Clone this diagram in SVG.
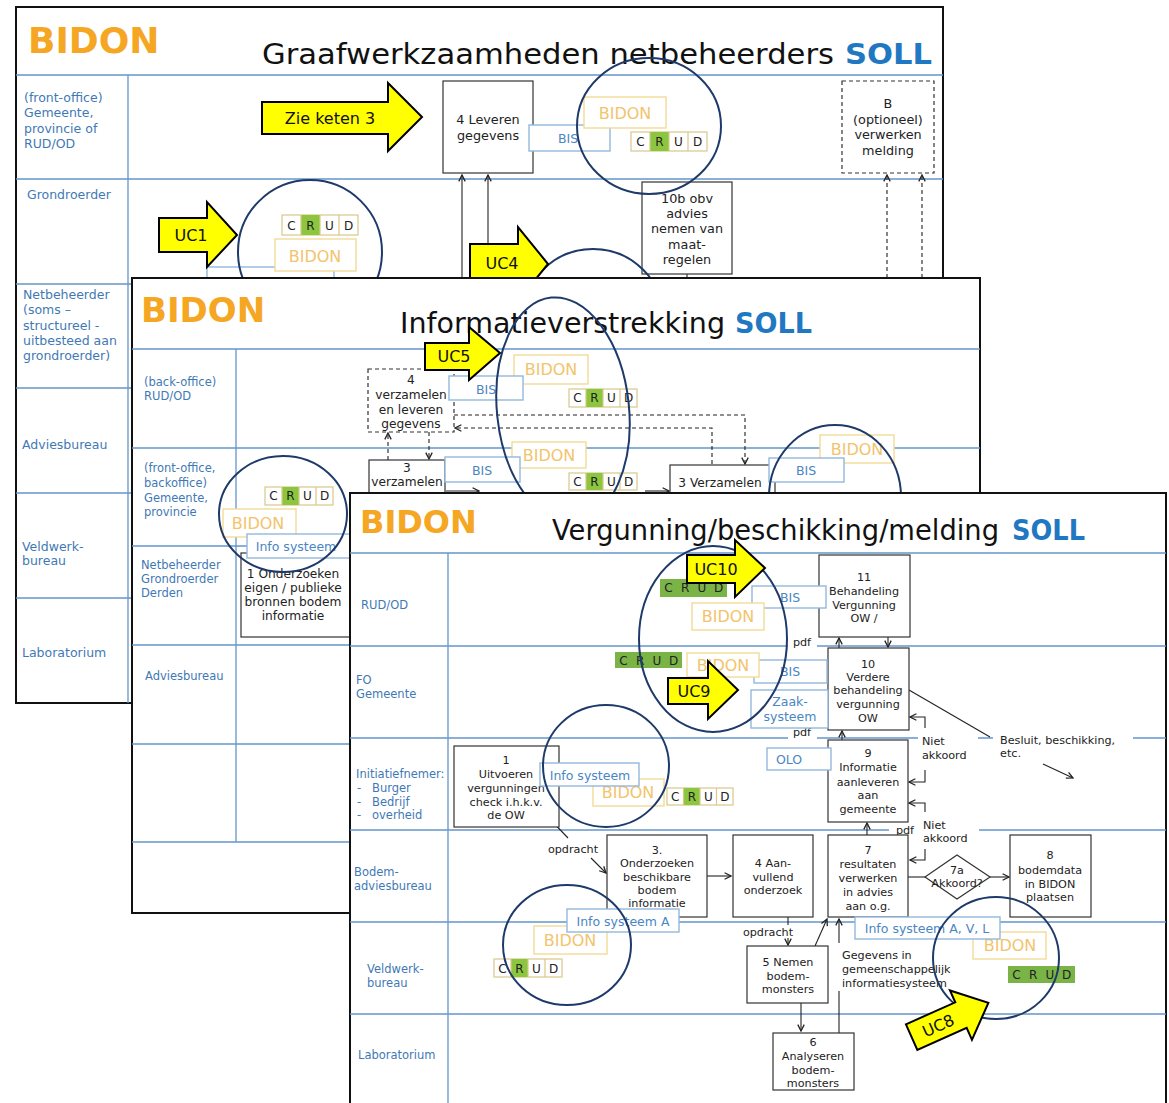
<svg xmlns="http://www.w3.org/2000/svg" width="1169" height="1103" viewBox="0 0 1169 1103">
<defs>
<style>
text{font-family:'DejaVu Sans',Verdana,sans-serif}
.slide{fill:#fff;stroke:#111;stroke-width:2}
.lane{stroke:#6496cc;stroke-width:1.3;fill:none}
.lbl{font-size:11.5px;fill:#3f79b5}
.lbl1{font-size:12.5px;fill:#3f79b5}
.brand{font-weight:bold;fill:#f5a623}
.ttl{fill:#111}
.soll{font-weight:bold;fill:#1f78c1}
.box{fill:#fff;stroke:#333;stroke-width:1.2}
.dbox{fill:#fff;stroke:#333;stroke-width:1.2;stroke-dasharray:4 3}
.t{font-size:11.2px;fill:#222;text-anchor:middle}
.t2{font-size:12.2px;fill:#222;text-anchor:middle}
.t1{font-size:12.8px;fill:#222;text-anchor:middle}
.ts{font-size:11.2px;fill:#222}
.sys{fill:#fff;stroke:#93b8dd;stroke-width:1.4}
.st{font-size:12.5px;fill:#4a86c3;text-anchor:middle}
.bid{fill:#fff;stroke:#f2da96;stroke-width:1.4}
.bt{font-size:16px;fill:#f2c46c;text-anchor:middle}
.cb{fill:#fff;stroke:#d8c98a;stroke-width:1.2}
.cg{fill:#8cc63f}
.cga{fill:#7bb446}
.cl{stroke:#d8c98a;stroke-width:1.2;fill:none}
.ct{font-size:12px;fill:#222;text-anchor:middle}
.uc{fill:#ffff00;stroke:#000;stroke-width:2;stroke-linejoin:miter}
.ut{font-size:16px;fill:#111;text-anchor:middle}
.circ{fill:none;stroke:#1e3a6a;stroke-width:2}
.ln{fill:none;stroke:#222;stroke-width:1.1}
.dl{fill:none;stroke:#222;stroke-width:1.1;stroke-dasharray:4 3}
.bg{fill:#fff}
</style>
<marker id="ah" viewBox="0 0 10 10" refX="9" refY="5" markerWidth="8" markerHeight="8" markerUnits="userSpaceOnUse" orient="auto"><path d="M1,1 L9,5 L1,9" fill="none" stroke="#222" stroke-width="1.6"/></marker>
</defs>

<!-- ================= SLIDE 1 ================= -->
<g id="slide1">
<rect class="slide" x="16" y="7" width="927" height="696"/>
<text class="brand" x="28" y="53" font-size="36">BIDON</text>
<text class="ttl" x="262" y="64" font-size="29" textLength="572" lengthAdjust="spacingAndGlyphs">Graafwerkzaamheden netbeheerders</text>
<text class="soll" x="845" y="64" font-size="29" textLength="87" lengthAdjust="spacingAndGlyphs">SOLL</text>
<path class="lane" d="M16,75H943 M16,179H943 M16,284H943 M16,388H943 M16,493H943 M16,598H943 M128,75V703"/>
<g id="s1-lanes">
<text class="lbl1" x="24" y="102">(front-office)</text>
<text class="lbl1" x="24" y="117">Gemeente,</text>
<text class="lbl1" x="24" y="133">provincie of</text>
<text class="lbl1" x="24" y="148">RUD/OD</text>
<text class="lbl1" x="27" y="199">Grondroerder</text>
<text class="lbl1" x="23" y="299">Netbeheerder</text>
<text class="lbl1" x="23" y="314">(soms –</text>
<text class="lbl1" x="23" y="330">structureel -</text>
<text class="lbl1" x="23" y="345">uitbesteed aan</text>
<text class="lbl1" x="23" y="360">grondroerder)</text>
<text class="lbl1" x="22" y="449">Adviesbureau</text>
<text class="lbl1" x="22" y="551">Veldwerk-</text>
<text class="lbl1" x="22" y="565">bureau</text>
<text class="lbl1" x="22" y="657">Laboratorium</text>
</g>
<g id="s1-connectors">
<path class="ln" d="M462,278V175" marker-end="url(#ah)"/>
<path class="ln" d="M488,278V175" marker-end="url(#ah)"/>
<path class="dl" d="M887,278V175" marker-end="url(#ah)"/>
<path class="dl" d="M922,278V175" marker-end="url(#ah)"/>
<path class="ln" d="M687,274V290"/>
</g>
<g id="s1-n4"><rect class="box" x="443" y="81" width="90" height="92"/>
<text class="t1" x="488" y="124">4 Leveren</text><text class="t1" x="488" y="140">gegevens</text></g>
<g id="s1-nB"><rect class="dbox" x="842" y="81" width="92" height="92"/>
<text class="t1" x="888" y="108">B</text><text class="t1" x="888" y="124">(optioneel)</text><text class="t1" x="888" y="139">verwerken</text><text class="t1" x="888" y="155">melding</text></g>
<g id="s1-n10b"><rect class="box" x="642" y="182" width="90" height="92"/>
<text class="t1" x="687" y="203">10b obv</text><text class="t1" x="687" y="218">advies</text><text class="t1" x="687" y="233">nemen van</text><text class="t1" x="687" y="249">maat-</text><text class="t1" x="687" y="264">regelen</text></g>
<g id="s1-bis"><rect class="sys" x="529" y="125" width="81" height="26"/><text class="st" x="568" y="143">BIS</text></g>
<g id="s1-bidon1"><rect class="bid" x="584" y="97" width="82" height="31"/><text class="bt" x="625" y="119" font-size="18">BIDON</text></g>
<g id="s1-crud1"><rect class="cb" x="631" y="132" width="76" height="19"/><rect class="cg" x="650" y="132" width="19" height="19"/>
<path class="cl" d="M650,132v19M669,132v19M688,132v19"/>
<text class="ct" x="640.5" y="146">C</text><text class="ct" x="659.5" y="146">R</text><text class="ct" x="678.5" y="146">U</text><text class="ct" x="697.5" y="146">D</text></g>
<g id="s1-info"><rect class="sys" x="207" y="267" width="127" height="24"/></g>
<g id="s1-crud2"><rect class="cb" x="282" y="215" width="76" height="20"/><rect class="cg" x="301" y="215" width="19" height="20"/>
<path class="cl" d="M301,215v20M320,215v20M339,215v20"/>
<text class="ct" x="291.5" y="229.5">C</text><text class="ct" x="310.5" y="229.5">R</text><text class="ct" x="329.5" y="229.5">U</text><text class="ct" x="348.5" y="229.5">D</text></g>
<g id="s1-bidon2"><rect class="bid" x="275" y="239" width="81" height="32"/><text class="bt" x="315" y="262" font-size="18">BIDON</text></g>
<g id="s1-circles">
<ellipse class="circ" cx="649" cy="126" rx="72" ry="68"/>
<circle class="circ" cx="310" cy="252" r="72"/>
<circle class="circ" cx="593" cy="320" r="71"/>
</g>
<g id="s1-zie"><path class="uc" d="M262,102H388V83L422,117L388,151V134H262Z"/><text class="ut" x="330" y="124" font-size="17.5">Zie keten 3</text></g>
<g id="s1-uc1"><path class="uc" d="M159,218H207V202L237,235L207,267V252H159Z"/><text class="ut" x="191" y="241" font-size="17">UC1</text></g>
<g id="s1-uc4"><path class="uc" d="M470,244H518V227L548,264L518,301V284H470Z"/><text class="ut" x="502" y="269" font-size="17">UC4</text></g>
</g>

<!-- ================= SLIDE 2 ================= -->
<g id="slide2">
<rect class="slide" x="132" y="278" width="848" height="635"/>
<text class="brand" x="141" y="322" font-size="34">BIDON</text>
<text class="ttl" x="400" y="333" font-size="28" textLength="325" lengthAdjust="spacingAndGlyphs">Informatieverstrekking</text>
<text class="soll" x="735" y="333" font-size="28" textLength="77" lengthAdjust="spacingAndGlyphs">SOLL</text>
<path class="lane" d="M132,349H980 M132,448H980 M132,546H980 M132,645H980 M132,744H980 M132,842H980 M236,349V842"/>
<g id="s2-lanes">
<text class="lbl" x="144" y="386">(back-office)</text>
<text class="lbl" x="144" y="400">RUD/OD</text>
<text class="lbl" x="144" y="472">(front-office,</text>
<text class="lbl" x="144" y="487">backoffice)</text>
<text class="lbl" x="144" y="502">Gemeente,</text>
<text class="lbl" x="144" y="516">provincie</text>
<text class="lbl" x="141" y="569">Netbeheerder</text>
<text class="lbl" x="141" y="583">Grondroerder</text>
<text class="lbl" x="141" y="597">Derden</text>
<text class="lbl" x="145" y="680">Adviesbureau</text>
</g>
<g id="s2-connectors">
<path class="dl" d="M429,432V459" marker-end="url(#ah)"/>
<path class="dl" d="M388,460V433" marker-end="url(#ah)"/>
<path class="dl" d="M454,415H745V464" marker-end="url(#ah)"/>
<path class="dl" d="M712,464V428H455" marker-end="url(#ah)"/>
<path class="ln" d="M446,491H479" marker-end="url(#ah)"/>
<path class="ln" d="M645,491H669" marker-end="url(#ah)"/>
</g>
<g id="s2-n4"><rect class="dbox" x="368" y="369" width="86" height="63"/>
<text class="t2" x="411" y="384">4</text><text class="t2" x="411" y="399">verzamelen</text><text class="t2" x="411" y="414">en leveren</text><text class="t2" x="411" y="428">gegevens</text></g>
<g id="s2-n3a"><rect class="box" x="369" y="460" width="76" height="60"/>
<text class="t2" x="407" y="472">3</text><text class="t2" x="407" y="486">verzamelen</text></g>
<g id="s2-n3b"><rect class="box" x="670" y="465" width="105" height="50"/>
<text class="t2" x="720" y="487">3 Verzamelen</text></g>
<g id="s2-n1"><rect class="box" x="241" y="553" width="120" height="84"/>
<text class="t2" x="293" y="578">1 Onderzoeken</text><text class="t2" x="293" y="592">eigen / publieke</text><text class="t2" x="293" y="606">bronnen bodem</text><text class="t2" x="293" y="620">informatie</text></g>
<g id="s2-bidon1"><rect class="bid" x="514" y="355" width="74" height="29"/><text class="bt" x="551" y="375" font-size="16.5">BIDON</text></g>
<g id="s2-bis1"><rect class="sys" x="449" y="376" width="74" height="24"/><text class="st" x="486" y="394">BIS</text></g>
<g id="s2-crud1"><rect class="cb" x="569" y="389" width="68" height="18"/><rect class="cg" x="586" y="389" width="17" height="18"/>
<path class="cl" d="M586,389v18M603,389v18M620,389v18"/>
<text class="ct" x="577.5" y="402">C</text><text class="ct" x="594.5" y="402">R</text><text class="ct" x="611.5" y="402">U</text><text class="ct" x="628.5" y="402">D</text></g>
<g id="s2-bidon2"><rect class="bid" x="512" y="442" width="74" height="26"/><text class="bt" x="549" y="461" font-size="16.5">BIDON</text></g>
<g id="s2-bis2"><rect class="sys" x="445" y="457" width="75" height="25"/><text class="st" x="482" y="475">BIS</text></g>
<g id="s2-crud2"><rect class="cb" x="569" y="473" width="68" height="17"/><rect class="cg" x="586" y="473" width="17" height="17"/>
<path class="cl" d="M586,473v17M603,473v17M620,473v17"/>
<text class="ct" x="577.5" y="486">C</text><text class="ct" x="594.5" y="486">R</text><text class="ct" x="611.5" y="486">U</text><text class="ct" x="628.5" y="486">D</text></g>
<g id="s2-bidon3"><rect class="bid" x="820" y="435" width="74" height="28"/><text class="bt" x="857" y="455" font-size="16.5">BIDON</text></g>
<g id="s2-bis3"><rect class="sys" x="769" y="458" width="75" height="24"/><text class="st" x="806" y="475">BIS</text></g>
<g id="s2-crud3"><rect class="cb" x="265" y="487" width="68" height="18"/><rect class="cg" x="282" y="487" width="17" height="18"/>
<path class="cl" d="M282,487v18M299,487v18M316,487v18"/>
<text class="ct" x="273.5" y="500">C</text><text class="ct" x="290.5" y="500">R</text><text class="ct" x="307.5" y="500">U</text><text class="ct" x="324.5" y="500">D</text></g>
<g id="s2-bidon4"><rect class="bid" x="223" y="509" width="73" height="28"/><text class="bt" x="258" y="529" font-size="16.5">BIDON</text></g>
<g id="s2-info"><rect class="sys" x="247" y="534" width="110" height="24"/><text class="st" x="296" y="551">Info systeem</text></g>
<g id="s2-circles">
<ellipse class="circ" cx="563" cy="410" rx="66" ry="113" transform="rotate(-6 563 410)"/>
<ellipse class="circ" cx="835" cy="497" rx="66" ry="72"/>
<ellipse class="circ" cx="283" cy="514" rx="64" ry="58"/>
</g>
<g id="s2-uc5"><path class="uc" d="M425,343H469V327L500,353L469,380V370H425Z"/><text class="ut" x="454" y="362">UC5</text></g>
</g>

<!-- ================= SLIDE 3 ================= -->
<g id="slide3">
<rect class="slide" x="350" y="493" width="816" height="620"/>
<text class="brand" x="360" y="533" font-size="32">BIDON</text>
<text class="ttl" x="552" y="540" font-size="28" textLength="447" lengthAdjust="spacingAndGlyphs">Vergunning/beschikking/melding</text>
<text class="soll" x="1012" y="540" font-size="28" textLength="73" lengthAdjust="spacingAndGlyphs">SOLL</text>
<path class="lane" d="M350,553H1166 M350,646H1166 M350,738H1166 M350,830H1166 M350,922H1166 M350,1014H1166 M448,553V1103"/>
<g id="s3-lanes">
<text class="lbl" x="361" y="609">RUD/OD</text>
<text class="lbl" x="356" y="684">FO</text>
<text class="lbl" x="356" y="698">Gemeente</text>
<text class="lbl" x="356" y="778">Initiatiefnemer:</text>
<text class="lbl" x="357" y="792">-</text><text class="lbl" x="372" y="792">Burger</text>
<text class="lbl" x="357" y="806">-</text><text class="lbl" x="372" y="806">Bedrijf</text>
<text class="lbl" x="357" y="819">-</text><text class="lbl" x="372" y="819">overheid</text>
<text class="lbl" x="354" y="876">Bodem-</text>
<text class="lbl" x="354" y="890">adviesbureau</text>
<text class="lbl" x="367" y="973">Veldwerk-</text>
<text class="lbl" x="367" y="987">bureau</text>
<text class="lbl" x="358" y="1059">Laboratorium</text>
</g>
<g id="s3-connectors">
<path class="ln" d="M545,814L568,838"/>
<path class="ln" d="M591,858L606,873" marker-end="url(#ah)"/>
<path class="ln" d="M707,876H731" marker-end="url(#ah)"/>
<path class="ln" d="M788,917V945" marker-end="url(#ah)"/>
<path class="ln" d="M815,946L827,919" marker-end="url(#ah)"/>
<path class="ln" d="M839,1033V919" marker-end="url(#ah)"/>
<path class="ln" d="M801,1003V1031" marker-end="url(#ah)"/>
<path class="ln" d="M908,877H925"/>
<path class="ln" d="M990,877H1009" marker-end="url(#ah)"/>
<path class="ln" d="M925,849V860H910" marker-end="url(#ah)"/>
<path class="ln" d="M839,648V638" marker-end="url(#ah)"/>
<path class="ln" d="M888,637V647" marker-end="url(#ah)"/>
<path class="ln" d="M842,740V731" marker-end="url(#ah)"/>
<path class="ln" d="M867,835V823" marker-end="url(#ah)"/>
<path class="ln" d="M925,728V717H910" marker-end="url(#ah)"/>
<path class="ln" d="M925,770V782H909" marker-end="url(#ah)"/>
<path class="ln" d="M925,812V803H909" marker-end="url(#ah)"/>
<path class="ln" d="M909,690L990,737"/>
<path class="ln" d="M1043,764L1073,778" marker-end="url(#ah)"/>
</g>
<g id="s3-labels">
<rect class="bg" x="788" y="637" width="29" height="13"/><text class="t" x="802" y="646">pdf</text>
<rect class="bg" x="788" y="729" width="29" height="12"/><text class="t" x="802" y="736">pdf</text>
<rect class="bg" x="889" y="824" width="30" height="13"/><text class="t" x="905" y="834">pdf</text>
<rect class="bg" x="918" y="733" width="60" height="30"/><text class="ts" x="922" y="745">Niet</text><text class="ts" x="922" y="759">akkoord</text>
<rect class="bg" x="919" y="820" width="60" height="27"/><text class="ts" x="923" y="829">Niet</text><text class="ts" x="923" y="842">akkoord</text>
<rect class="bg" x="993" y="731" width="140" height="28"/><text class="ts" x="1000" y="744">Besluit, beschikking,</text><text class="ts" x="1000" y="757">etc.</text>
<text class="t" x="573" y="853">opdracht</text>
<rect class="bg" x="741" y="925" width="55" height="13"/><text class="t" x="768" y="936">opdracht</text>
<rect class="bg" x="835" y="943" width="118" height="48"/>
<text class="ts" x="842" y="959">Gegevens in</text><text class="ts" x="842" y="973">gemeenschappelijk</text><text class="ts" x="842" y="987">informatiesysteem</text>
</g>
<g id="s3-n1"><rect class="box" x="454" y="746" width="105" height="81"/>
<text class="t" x="506" y="764">1</text><text class="t" x="506" y="778">Uitvoeren</text><text class="t" x="506" y="792">vergunningen</text><text class="t" x="506" y="806">check i.h.k.v.</text><text class="t" x="506" y="819">de OW</text></g>
<g id="s3-n11"><rect class="box" x="819" y="555" width="91" height="82"/>
<text class="t" x="864" y="581">11</text><text class="t" x="864" y="595">Behandeling</text><text class="t" x="864" y="609">Vergunning</text><text class="t" x="864" y="622">OW /</text></g>
<g id="s3-n10"><rect class="box" x="828" y="648" width="81" height="82"/>
<text class="t" x="868" y="668">10</text><text class="t" x="868" y="681">Verdere</text><text class="t" x="868" y="694">behandeling</text><text class="t" x="868" y="708">vergunning</text><text class="t" x="868" y="722">OW</text></g>
<g id="s3-n9"><rect class="box" x="828" y="740" width="80" height="82"/>
<text class="t" x="868" y="757">9</text><text class="t" x="868" y="771">Informatie</text><text class="t" x="868" y="786">aanleveren</text><text class="t" x="868" y="799">aan</text><text class="t" x="868" y="813">gemeente</text></g>
<g id="s3-n7"><rect class="box" x="828" y="835" width="80" height="82"/>
<text class="t" x="868" y="854">7</text><text class="t" x="868" y="868">resultaten</text><text class="t" x="868" y="882">verwerken</text><text class="t" x="868" y="896">in advies</text><text class="t" x="868" y="910">aan o.g.</text></g>
<g id="s3-n3"><rect class="box" x="607" y="835" width="100" height="82"/>
<text class="t" x="657" y="854">3.</text><text class="t" x="657" y="867">Onderzoeken</text><text class="t" x="657" y="881">beschikbare</text><text class="t" x="657" y="894">bodem</text><text class="t" x="657" y="907">informatie</text></g>
<g id="s3-n4"><rect class="box" x="733" y="835" width="80" height="82"/>
<text class="t" x="773" y="867">4 Aan-</text><text class="t" x="773" y="881">vullend</text><text class="t" x="773" y="894">onderzoek</text></g>
<g id="s3-n8"><rect class="box" x="1010" y="835" width="81" height="82"/>
<text class="t" x="1050" y="859">8</text><text class="t" x="1050" y="874">bodemdata</text><text class="t" x="1050" y="888">in BIDON</text><text class="t" x="1050" y="901">plaatsen</text></g>
<g id="s3-n5"><rect class="box" x="747" y="946" width="81" height="57"/>
<text class="t" x="788" y="966">5 Nemen</text><text class="t" x="788" y="980">bodem-</text><text class="t" x="788" y="993">monsters</text></g>
<g id="s3-n6"><rect class="box" x="773" y="1033" width="81" height="57"/>
<text class="t" x="813" y="1046">6</text><text class="t" x="813" y="1060">Analyseren</text><text class="t" x="813" y="1074">bodem-</text><text class="t" x="813" y="1087">monsters</text></g>
<g id="s3-n7a"><path class="box" d="M925,877L957,855L990,877L957,899Z"/>
<text class="t" x="957" y="874">7a</text><text class="t" x="957" y="887">Akkoord?</text></g>
<g id="s3-bidon1"><rect class="bid" x="593" y="779" width="71" height="27"/><text class="bt" x="628" y="798">BIDON</text></g>
<g id="s3-info1"><rect class="sys" x="540" y="763" width="99" height="23"/><text class="st" x="590" y="780">Info systeem</text></g>
<g id="s3-crud1"><rect class="cb" x="667" y="788" width="66" height="17"/><rect class="cg" x="683.5" y="788" width="16.5" height="17"/>
<path class="cl" d="M683.5,788v17M700,788v17M716.5,788v17"/>
<text class="ct" x="675.3" y="801">C</text><text class="ct" x="691.8" y="801">R</text><text class="ct" x="708.3" y="801">U</text><text class="ct" x="724.8" y="801">D</text></g>
<g id="s3-bis1"><rect class="sys" x="752" y="586" width="74" height="22"/><text class="st" x="790" y="602">BIS</text></g>
<g id="s3-bidon2"><rect class="bid" x="692" y="603" width="72" height="27"/><text class="bt" x="728" y="622">BIDON</text></g>
<g id="s3-crud2"><rect class="cga" x="660" y="579" width="67" height="18"/>
<text class="ct" x="668.4" y="592">C</text><text class="ct" x="685.1" y="592">R</text><text class="ct" x="701.9" y="592">U</text><text class="ct" x="718.6" y="592">D</text></g>
<g id="s3-bis2"><rect class="sys" x="754" y="660" width="73" height="23"/><text class="st" x="790" y="676">BIS</text></g>
<g id="s3-bidon3"><rect class="bid" x="687" y="653" width="72" height="24"/><text class="bt" x="723" y="671">BIDON</text></g>
<g id="s3-crud3"><rect class="cga" x="615" y="652" width="67" height="16"/>
<text class="ct" x="623.4" y="664.5">C</text><text class="ct" x="640.1" y="664.5">R</text><text class="ct" x="656.9" y="664.5">U</text><text class="ct" x="673.6" y="664.5">D</text></g>
<g id="s3-zaak"><rect class="sys" x="751" y="690" width="77" height="38"/><text class="st" x="790" y="706">Zaak-</text><text class="st" x="790" y="721">systeem</text></g>
<g id="s3-olo"><rect class="sys" x="767" y="748" width="64" height="22"/><text class="st" x="789" y="764">OLO</text></g>
<g id="s3-bidon4"><rect class="bid" x="534" y="926" width="73" height="28"/><text class="bt" x="570" y="946">BIDON</text></g>
<g id="s3-info2"><rect class="sys" x="567" y="909" width="112" height="23"/><text class="st" x="623" y="926">Info systeem A</text></g>
<g id="s3-crud4"><rect class="cb" x="494" y="959" width="68" height="18"/><rect class="cg" x="511" y="959" width="17" height="18"/>
<path class="cl" d="M511,959v18M528,959v18M545,959v18"/>
<text class="ct" x="502.5" y="972.5">C</text><text class="ct" x="519.5" y="972.5">R</text><text class="ct" x="536.5" y="972.5">U</text><text class="ct" x="553.5" y="972.5">D</text></g>
<g id="s3-bidon5"><rect class="bid" x="973" y="932" width="73" height="27"/><text class="bt" x="1010" y="951">BIDON</text></g>
<g id="s3-info3"><rect class="sys" x="855" y="917" width="145" height="22"/><text class="st" x="927" y="933">Info systeem A, V, L</text></g>
<g id="s3-crud5"><rect class="cga" x="1008" y="966" width="67" height="17"/>
<text class="ct" x="1016.4" y="979">C</text><text class="ct" x="1033.1" y="979">R</text><text class="ct" x="1049.9" y="979">U</text><text class="ct" x="1066.6" y="979">D</text></g>
<g id="s3-circles">
<ellipse class="circ" cx="713" cy="639" rx="74" ry="93"/>
<ellipse class="circ" cx="606" cy="766" rx="63" ry="61"/>
<ellipse class="circ" cx="567" cy="945" rx="64" ry="60"/>
<ellipse class="circ" cx="996" cy="958" rx="63" ry="61"/>
</g>
<g id="s3-uc10"><path class="uc" d="M687,555H735V540L765,568L735,597V583H687Z"/><text class="ut" x="716" y="575" font-size="15.5">UC10</text></g>
<g id="s3-uc9"><path class="uc" d="M668,678H708V661L738,690L708,719V704H668Z"/><text class="ut" x="694" y="697">UC9</text></g>
<g id="s3-uc8" transform="translate(950,1020) rotate(-24)"><path class="uc" d="M-42,-14H12V-27L42,0L12,27V14H-42Z"/><text class="ut" x="-13" y="6">UC8</text></g>
</g>
</svg>
